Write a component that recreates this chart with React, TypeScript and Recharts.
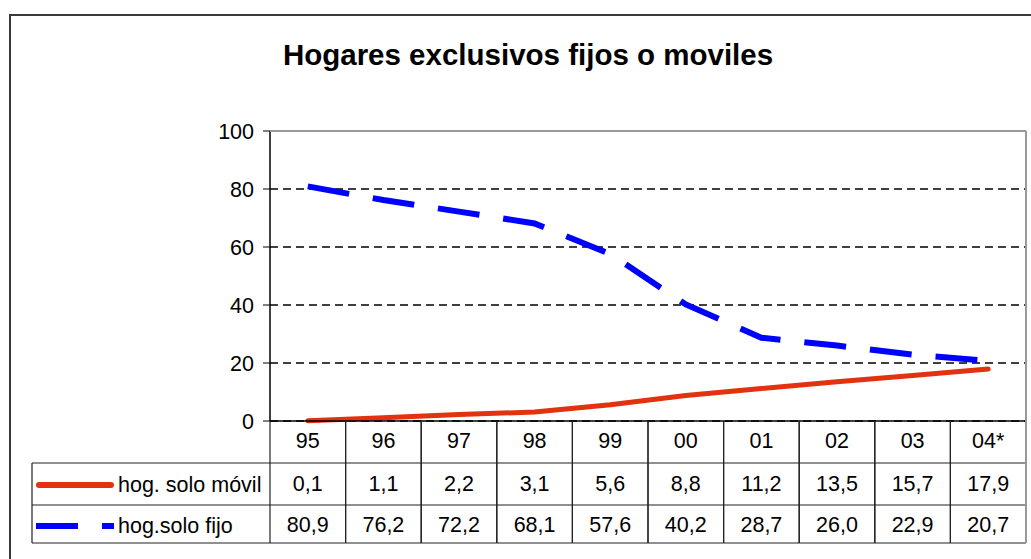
import React from 'react';
import { ComposedChart, Line, XAxis, YAxis, CartesianGrid } from 'recharts';

const years = ['95', '96', '97', '98', '99', '00', '01', '02', '03', '04*'];
const soloMovil = [0.1, 1.1, 2.2, 3.1, 5.6, 8.8, 11.2, 13.5, 15.7, 17.9];
const soloFijo = [80.9, 76.2, 72.2, 68.1, 57.6, 40.2, 28.7, 26.0, 22.9, 20.7];
const yTicks = [0, 20, 40, 60, 80, 100];
const title = 'Hogares exclusivos fijos o moviles';
const movilLabel = 'hog. solo móvil';
const fijoLabel = 'hog.solo fijo';

const data = years.map((year, i) => ({ year, movil: soloMovil[i], fijo: soloFijo[i] }));

const W = 1031;
const H = 559;
const PLOT_L = 270;
const PLOT_R = 1026;
const PLOT_T = 131;
const BAND = (PLOT_R - PLOT_L) / years.length;
const RED = '#E3320F';
const BLUE = '#0000FF';
const GRID = '#222';
const FONT = '"Liberation Sans", Arial, sans-serif';
const FS = 21.5;

const fmt = (v: number) => v.toFixed(1).replace('.', ',');

// x axis ticks draw one column of the data table under the plot
function TableTick(props: any) {
  const { x, y, payload, index } = props;
  const l = x - BAND / 2;
  const r = x + BAND / 2;
  const y1 = y + 42;
  const y2 = y + 84;
  const y3 = y + 122;
  return (
    <g>
      <line x1={l} y1={y} x2={l} y2={y3} stroke={GRID} strokeWidth={1.2} />
      <line x1={r} y1={y} x2={r} y2={y3} stroke={GRID} strokeWidth={1.2} />
      <line x1={l} y1={y1} x2={r} y2={y1} stroke={GRID} strokeWidth={1.2} />
      <line x1={l} y1={y2} x2={r} y2={y2} stroke={GRID} strokeWidth={1.2} />
      <line x1={l} y1={y3} x2={r} y2={y3} stroke={GRID} strokeWidth={1.2} />
      <text x={x} y={y + 27} textAnchor="middle" fontSize={FS} fill="#000" fontFamily={FONT}>
        {payload.value}
      </text>
      <text x={x} y={y + 70} textAnchor="middle" fontSize={FS} fill="#000" fontFamily={FONT}>
        {fmt(soloMovil[index])}
      </text>
      <text x={x} y={y + 111} textAnchor="middle" fontSize={FS} fill="#000" fontFamily={FONT}>
        {fmt(soloFijo[index])}
      </text>
    </g>
  );
}

export default function App() {
  return (
    <div style={{ position: 'absolute', left: 0, top: 0, width: W, height: H, fontFamily: FONT, background: '#fff' }}>
      <ComposedChart
        width={W}
        height={H}
        data={data}
        margin={{ top: PLOT_T, right: W - PLOT_R, bottom: 16, left: PLOT_L - 60 }}
      >
        <CartesianGrid vertical={false} stroke="#000" strokeWidth={1.3} strokeDasharray="8 5" />
        <XAxis
          dataKey="year"
          scale="band"
          interval={0}
          height={122}
          tickSize={0}
          tickMargin={0}
          tickLine={false}
          axisLine={{ stroke: '#000', strokeWidth: 1.5 }}
          tick={<TableTick />}
        />
        <YAxis
          domain={[0, 100]}
          ticks={yTicks}
          width={60}
          tickSize={7}
          tickMargin={9}
          axisLine={{ stroke: '#000', strokeWidth: 1.5 }}
          tickLine={{ stroke: '#000' }}
          tick={{ fontSize: FS, fill: '#000', fontFamily: FONT }}
        />
        <Line
          dataKey="movil"
          type="linear"
          stroke={RED}
          strokeWidth={5}
          strokeLinecap="round"
          dot={false}
          isAnimationActive={false}
        />
        <Line
          dataKey="fijo"
          type="linear"
          stroke={BLUE}
          strokeWidth={6}
          strokeDasharray="42 24"
          dot={false}
          isAnimationActive={false}
        />
      </ComposedChart>
      <svg
        width={W}
        height={H}
        style={{ position: 'absolute', left: 0, top: 0, pointerEvents: 'none' }}
      >
        <rect x={10} y={15} width={W + 20} height={H + 20} fill="none" stroke="#3a3a3a" strokeWidth={2} />
        <text x={528} y={65} textAnchor="middle" fontSize={29.5} fontWeight="bold" fill="#000" fontFamily={FONT}>
          {title}
        </text>
        <line x1={PLOT_L} y1={PLOT_T} x2={PLOT_R} y2={PLOT_T} stroke="#999" strokeWidth={2} />
        <line x1={PLOT_R} y1={PLOT_T} x2={PLOT_R} y2={543} stroke="#999" strokeWidth={2} />
        {/* legend column of the table */}
        <line x1={32} y1={463} x2={PLOT_L} y2={463} stroke={GRID} strokeWidth={1.2} />
        <line x1={32} y1={505} x2={PLOT_L} y2={505} stroke={GRID} strokeWidth={1.2} />
        <line x1={32} y1={543} x2={PLOT_L} y2={543} stroke={GRID} strokeWidth={1.2} />
        <line x1={32} y1={463} x2={32} y2={543} stroke={GRID} strokeWidth={1.2} />
        <line x1={39} y1={485} x2={111} y2={485} stroke={RED} strokeWidth={6} strokeLinecap="round" />
        <text x={118} y={492} fontSize={FS} fill="#000" fontFamily={FONT}>{movilLabel}</text>
        <line x1={36} y1={526} x2={114} y2={526} stroke={BLUE} strokeWidth={6} strokeDasharray="42 24" />
        <text x={118} y={533} fontSize={FS} fill="#000" fontFamily={FONT}>{fijoLabel}</text>
      </svg>
    </div>
  );
}
